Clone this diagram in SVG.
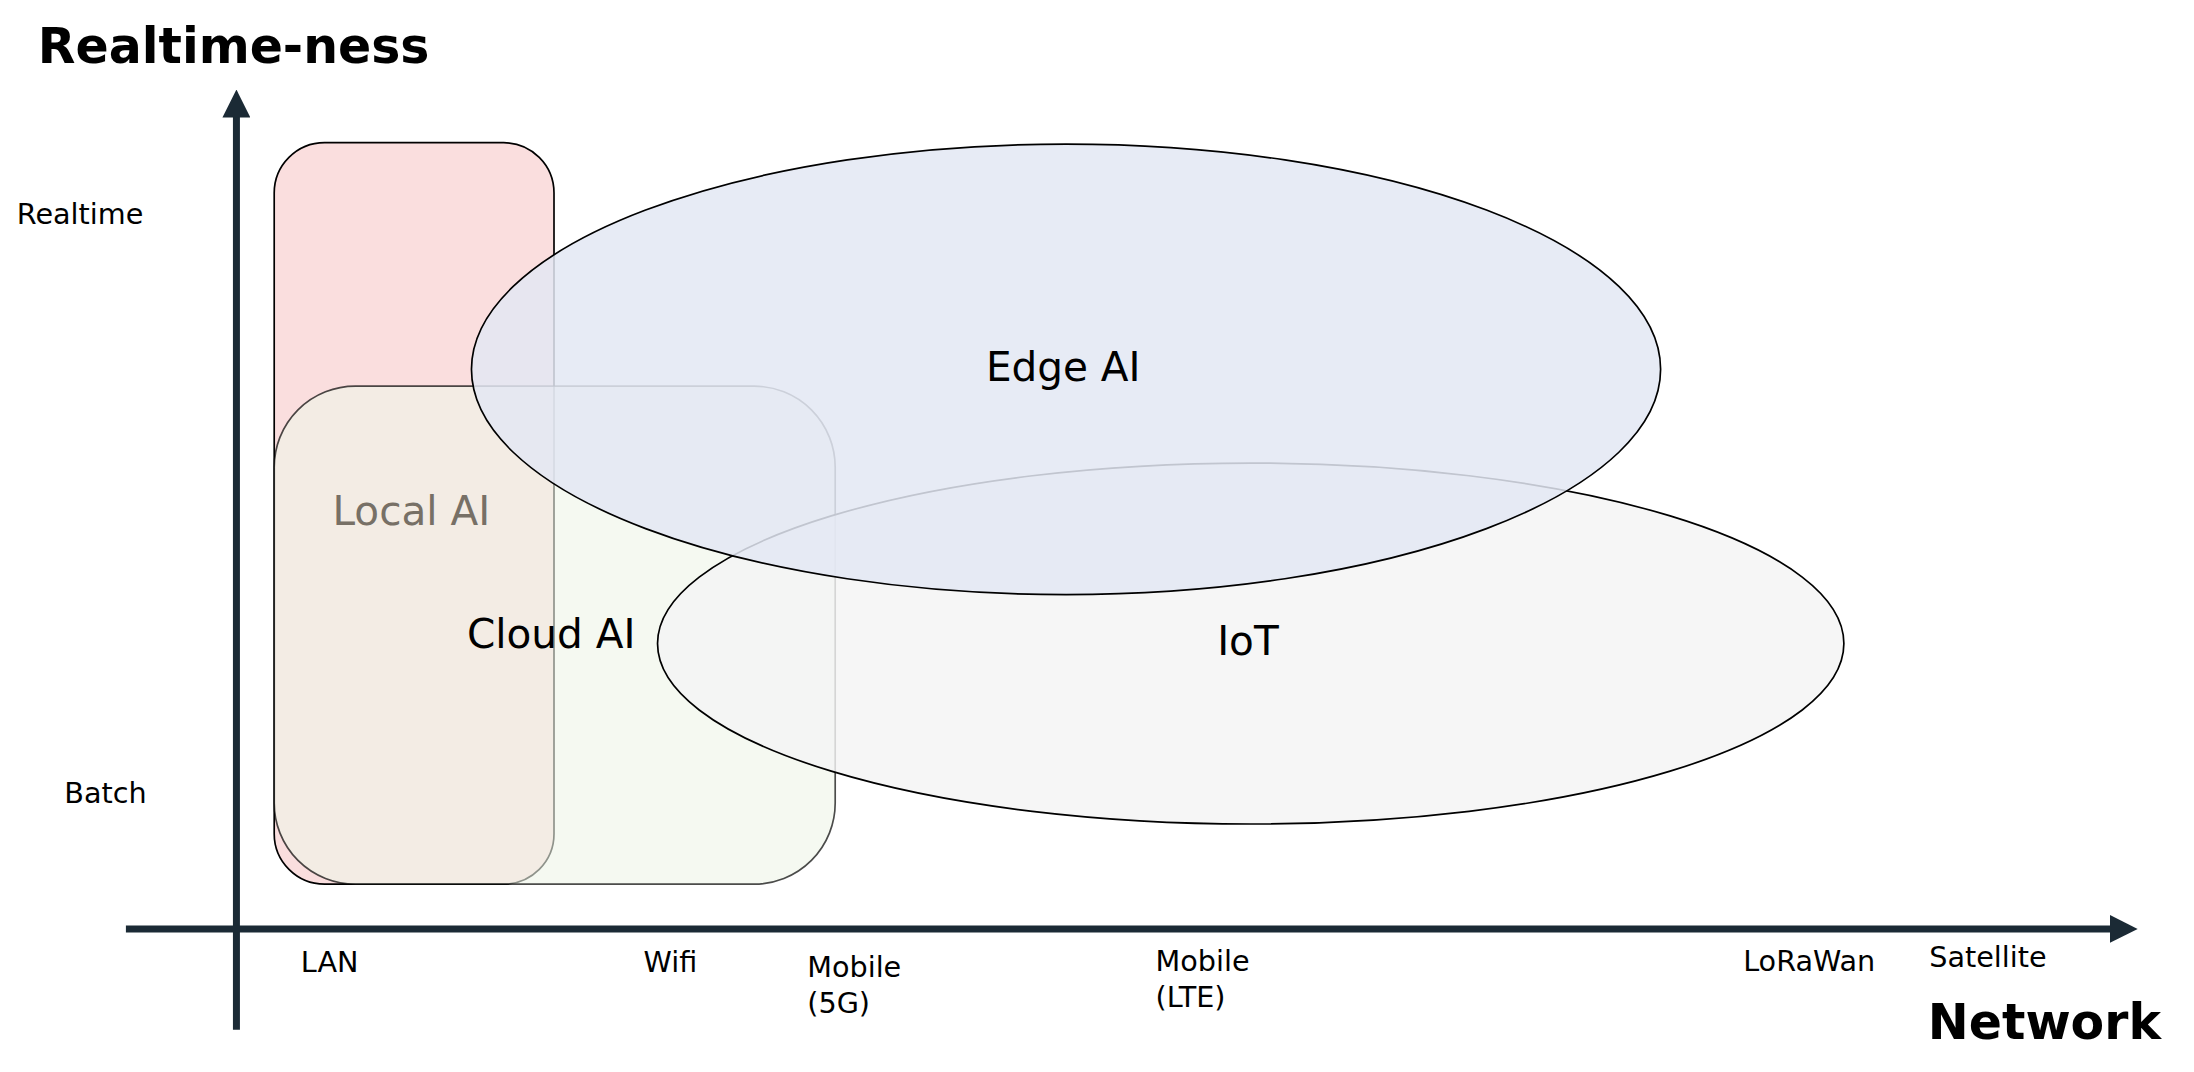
<svg xmlns="http://www.w3.org/2000/svg" width="2194" height="1072" viewBox="0 0 2194 1072">
<defs>
<style>
.lbl{font-family:"DejaVu Sans",Verdana,sans-serif;font-size:20.5px;fill:#000}
.big{font-family:"DejaVu Sans",Verdana,sans-serif;font-size:29px;fill:#000}
.ttl{font-family:"DejaVu Sans",Verdana,sans-serif;font-size:35px;font-weight:bold;fill:#000}
.ax{stroke:#1b2a35;stroke-width:5;fill:none}
</style>
<marker id="ah" viewBox="0 0 10 10" refX="2" refY="5" markerWidth="4" markerHeight="4" orient="auto"><path d="M0,0L10,5L0,10z" fill="#1b2a35"/></marker>
</defs>
<rect width="2194" height="1072" fill="#fff"/>
<g transform="scale(1.399)">
<g id="local-ai"><rect x="196" y="102" width="200" height="530" rx="36" fill="#fadede" stroke="#000" stroke-width="1.2"/></g>
<g id="cloud-ai"><rect x="196" y="276" width="401" height="356" rx="58" fill="#eef5e8" fill-opacity="0.6" stroke="#000" stroke-width="1.2" stroke-opacity="0.7"/></g>
<g id="iot"><ellipse cx="894" cy="460" rx="424" ry="129" fill="#f4f4f4" fill-opacity="0.82" stroke="#000" stroke-width="1.2"/></g>
<g id="edge-ai"><ellipse cx="762" cy="264" rx="425" ry="161" fill="#e3e8f3" fill-opacity="0.85" stroke="#000" stroke-width="1.2"/></g>
<g id="connectors">
<line class="ax" x1="169" y1="736" x2="169" y2="80" marker-end="url(#ah)"/>
<line class="ax" x1="90" y1="664" x2="1512" y2="664" marker-end="url(#ah)"/>
</g>
<text class="ttl" x="27" y="45">Realtime-ness</text>
<text class="ttl" x="1378" y="743">Network</text>
<text class="lbl" x="12" y="160">Realtime</text>
<text class="lbl" x="46" y="574">Batch</text>
<text class="lbl" x="215" y="695">LAN</text>
<text class="lbl" x="460" y="695">Wifi</text>
<text class="lbl" x="577" y="698">Mobile</text>
<text class="lbl" x="577" y="724">(5G)</text>
<text class="lbl" x="826" y="694">Mobile</text>
<text class="lbl" x="826" y="720">(LTE)</text>
<text class="lbl" x="1246" y="694">LoRaWan</text>
<text class="lbl" x="1379" y="691">Satellite</text>
<text class="big" x="760" y="272" text-anchor="middle">Edge AI</text>
<text class="big" x="892" y="468" text-anchor="middle">IoT</text>
<text class="big" x="394" y="463" text-anchor="middle">Cloud AI</text>
<text class="big" x="294" y="375" text-anchor="middle" style="fill:#777066">Local AI</text>
</g>
</svg>
